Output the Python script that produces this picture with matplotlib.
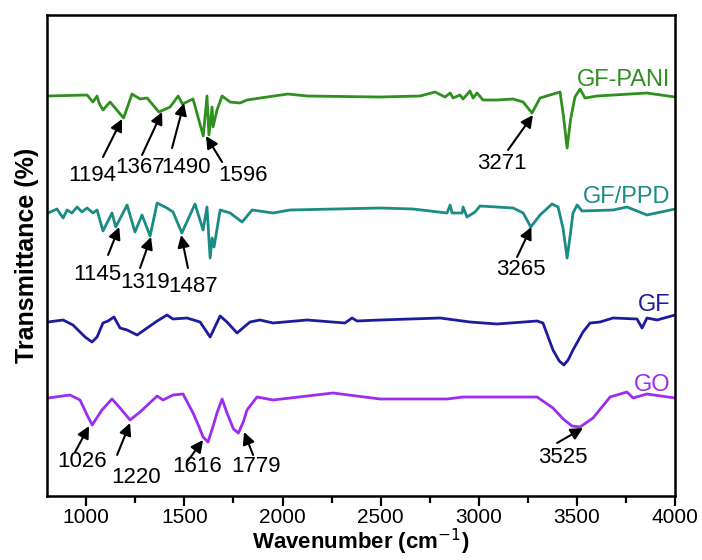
import matplotlib
matplotlib.use("Agg")
import matplotlib.pyplot as plt

plt.rcParams["font.family"] = ["Liberation Sans", "DejaVu Sans"]

# FTIR spectra (wavenumber in cm-1, transmittance in a.u.)
pani_wn = [805, 1004, 1034, 1055, 1065, 1085, 1121, 1190, 1233, 1274, 1310, 1370,
           1427, 1468, 1490, 1544, 1596, 1615, 1625, 1641, 1646, 1666, 1692, 1733,
           1783, 1819, 1921, 2028, 2125, 2497, 2701, 2777, 2828, 2854, 2869, 2904,
           2920, 2955, 2971, 2991, 3022, 3093, 3175, 3226, 3271, 3312, 3363, 3414,
           3432, 3450, 3468, 3490, 3516, 3541, 3603, 3857, 4000]
pani_t = [401, 402, 395, 401, 394, 387, 395, 379, 403, 398, 399, 385,
          390, 401, 393, 398, 361, 401, 362, 390, 370, 387, 401, 395,
          394, 397, 400, 403, 401, 400, 401, 405, 400, 404, 399, 402,
          398, 406, 399, 404, 397, 397, 398, 395, 384, 399, 402, 405,
          380, 349, 378, 400, 408, 399, 401, 404, 400]

ppd_wn = [805, 851, 882, 902, 927, 953, 978, 1004, 1034, 1055, 1085, 1131, 1150,
          1208, 1248, 1284, 1325, 1361, 1411, 1442, 1487, 1554, 1595, 1615, 1631,
          1641, 1651, 1682, 1733, 1794, 1845, 1952, 2038, 2497, 2665, 2838, 2854,
          2864, 2915, 2920, 2940, 2981, 3006, 3175, 3226, 3265, 3312, 3373, 3404,
          3430, 3450, 3466, 3480, 3501, 3526, 3684, 3755, 3857, 4000]
ppd_t = [284, 288, 279, 287, 284, 290, 285, 289, 284, 287, 266, 284, 270,
         292, 265, 282, 261, 294, 289, 285, 264, 293, 267, 290, 239,
         259, 250, 287, 284, 275, 287, 284, 287, 289, 288, 284, 292,
         284, 284, 290, 280, 285, 291, 289, 284, 270, 282, 293, 290,
         268, 239, 262, 284, 292, 286, 287, 290, 282, 288]

gf_wn = [805, 882, 932, 994, 1029, 1055, 1085, 1111, 1141, 1172, 1208, 1259, 1310,
         1361, 1411, 1442, 1513, 1580, 1631, 1682, 1717, 1768, 1834, 1885, 1952,
         2125, 2318, 2354, 2380, 2497, 2803, 2955, 3093, 3297, 3327, 3378, 3410,
         3434, 3455, 3480, 3531, 3567, 3618, 3684, 3806, 3832, 3857, 3908, 4000]
gf_t = [175, 177, 172, 160, 155, 160, 174, 176, 180, 169, 167, 162, 169,
        176, 182, 178, 179, 175, 160, 181, 175, 164, 175, 177, 174,
        177, 174, 179, 176, 177, 179, 175, 173, 176, 174, 147, 136,
        132, 137, 147, 165, 174, 175, 179, 178, 169, 179, 177, 182]

go_wn = [805, 917, 968, 1004, 1030, 1080, 1131, 1172, 1223, 1274, 1361, 1391, 1442,
         1493, 1544, 1575, 1595, 1620, 1645, 1666, 1692, 1717, 1750, 1775, 1800,
         1819, 1870, 1952, 2257, 2497, 2838, 2920, 3057, 3297, 3378, 3430, 3475,
         3516, 3582, 3669, 3755, 3786, 3857, 4000]
go_t = [99, 102, 97, 82, 72, 87, 98, 89, 77, 85, 101, 97, 102,
        103, 84, 70, 60, 55, 70, 84, 98, 84, 68, 64, 75,
        87, 100, 97, 104, 98, 98, 100, 100, 100, 89, 78, 71,
        70, 79, 100, 105, 99, 103, 99]

series = [
    ("GF-PANI", pani_wn, pani_t, "#2f8f1f", 417),
    ("GF/PPD", ppd_wn, ppd_t, "#1b8b86", 300),
    ("GF", gf_wn, gf_t, "#1c1c9c", 192),
    ("GO", go_wn, go_t, "#9b2cf0", 112),
]

# peak labels: text, text pos, arrow tail, arrow tip
peaks = [
    ("1194", (1029, 322), (1085, 340), (1182, 378)),
    ("1367", (1274, 330), (1284, 342), (1386, 385)),
    ("1490", (1508, 330), (1437, 349), (1498, 394)),
    ("1596", (1799, 322), (1692, 335), (1610, 361)),
    ("3271", (3118, 334), (3149, 347), (3276, 382)),
    ("1145", (1055, 222), (1111, 242), (1168, 270)),
    ("1319", (1299, 214), (1274, 229), (1330, 260)),
    ("1487", (1544, 210), (1518, 229), (1483, 262)),
    ("3265", (3215, 227), (3195, 240), (3268, 270)),
    ("1026", (978, 35), (943, 45), (1014, 71)),
    ("1220", (1253, 19), (1157, 42), (1223, 74)),
    ("1616", (1564, 30), (1513, 35), (1595, 57)),
    ("1779", (1865, 30), (1850, 42), (1804, 65)),
    ("3525", (3429, 39), (3399, 54), (3531, 69)),
]

fig = plt.figure(figsize=(7.02, 5.6), dpi=100)
ax = fig.add_axes([0.067, 0.1143, 0.8946, 0.8589])

for name, wn, t, col, ly in series:
    ax.plot(wn, t, color=col, lw=2)
    ax.text(3975, ly, name, color=col, fontsize=17, ha="right", va="center")

for lab, txt, tail, tip in peaks:
    ax.annotate("", xy=tip, xytext=tail,
                arrowprops=dict(arrowstyle="-|>", color="k", lw=1.5,
                                mutation_scale=18, shrinkA=0, shrinkB=0))
    ax.text(txt[0], txt[1], lab, fontsize=16, ha="center", va="center")

ax.set_xlim(800, 4000)
ax.set_ylim(1, 482)
ax.set_xticks([1000, 1500, 2000, 2500, 3000, 3500, 4000])
ax.set_xticks([1250, 1750, 2250, 2750, 3250, 3750], minor=True)
ax.set_yticks([])
ax.tick_params(axis="x", which="major", length=7, width=1.6, labelsize=15, pad=2)
ax.tick_params(axis="x", which="minor", length=5, width=1.6)
for sp in ax.spines.values():
    sp.set_linewidth(1.8)

ax.set_xlabel(r"Wavenumber (cm$^{-1}$)", fontsize=16, fontweight="bold", va="bottom")
ax.xaxis.set_label_coords(0.5, -0.127)
ax.set_ylabel("Transmittance (%)", fontsize=18, fontweight="bold", labelpad=6)

fig.savefig("out.png", dpi=100)
